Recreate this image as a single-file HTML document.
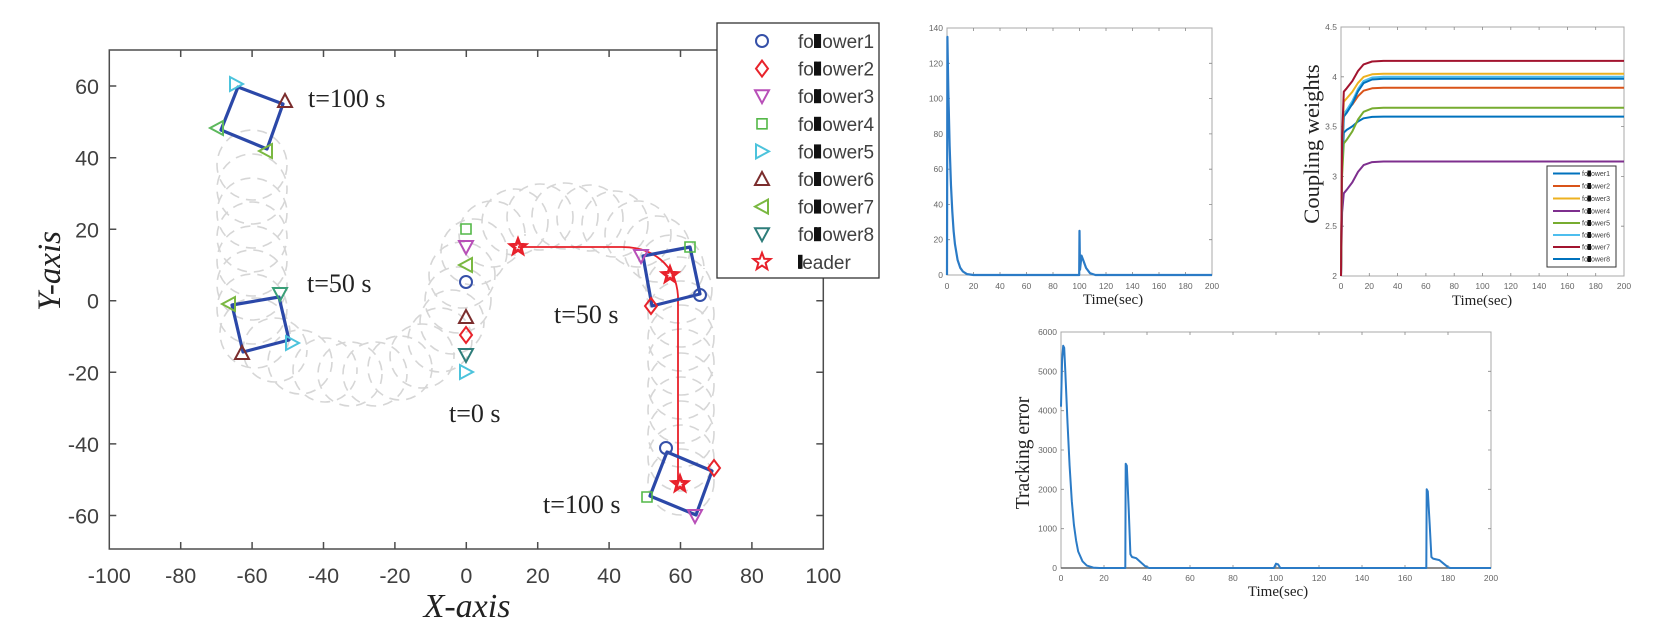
<!DOCTYPE html>
<html>
<head>
<meta charset="utf-8">
<style>
html,body{margin:0;padding:0;background:#fff;}
svg{display:block;}
.tk{font-family:"Liberation Sans",Arial,sans-serif;fill:#404040;}
.sm{font-family:"Liberation Sans",Arial,sans-serif;fill:#666;font-size:8.5px;}
.ser{font-family:"Liberation Serif","Times New Roman",serif;fill:#222;}
.tr{fill:none;stroke:#d6d6d6;stroke-width:1.6;stroke-dasharray:10 7;}
</style>
</head>
<body>
<svg width="1666" height="640" viewBox="0 0 1666 640" xmlns="http://www.w3.org/2000/svg">
<defs>
<path id="tdown" d="M-7,-6L7,-6L0,7Z" fill="none"/>
<path id="tup" d="M-7,6L7,6L0,-7Z" fill="none"/>
<path id="tright" d="M-6,-7L-6,7L7,0Z" fill="none"/>
<path id="tleft" d="M6,-7L6,7L-7,0Z" fill="none"/>
<path id="diam" d="M0,-8L6,0L0,8L-6,0Z" fill="none"/>
<path id="sq" d="M-5,-5h10v10h-10Z" fill="none"/>
<circle id="circ" r="6" fill="none"/>
<path id="star" d="M0,-9L2.23,-3.07L8.56,-2.78L3.61,1.17L5.29,7.28L0,3.8L-5.29,7.28L-3.61,1.17L-8.56,-2.78L-2.23,-3.07Z" fill="none"/>
<path id="star2" d="M0,-5L1.24,-1.7L4.76,-1.55L2,0.65L2.94,4.05L0,2.1L-2.94,4.05L-2,0.65L-4.76,-1.55L-1.24,-1.7Z" fill="none"/>
</defs>

<!-- ============ MAIN PLOT ============ -->
<g class="tr">
<!-- left vertical band -->
<circle cx="252" cy="165" r="35"/><circle cx="252" cy="189" r="35" stroke-dashoffset="5"/>
<circle cx="252" cy="213" r="35"/><circle cx="252" cy="237" r="35" stroke-dashoffset="8"/>
<circle cx="252" cy="261" r="35"/><circle cx="252" cy="285" r="35" stroke-dashoffset="4"/>
<circle cx="252" cy="309" r="35"/><circle cx="255" cy="333" r="35" stroke-dashoffset="9"/>
<!-- bottom band -->
<circle cx="275" cy="350" r="32" stroke-dashoffset="3"/><circle cx="300" cy="362" r="32"/>
<circle cx="325" cy="370" r="32" stroke-dashoffset="6"/><circle cx="350" cy="374" r="32"/>
<circle cx="375" cy="374" r="32" stroke-dashoffset="2"/><circle cx="400" cy="368" r="32"/>
<circle cx="422" cy="356" r="32" stroke-dashoffset="7"/><circle cx="440" cy="340" r="32"/>
<circle cx="452" cy="322" r="32" stroke-dashoffset="4"/>
<!-- right band -->
<circle cx="458" cy="300" r="33"/><circle cx="462" cy="275" r="33" stroke-dashoffset="5"/>
<circle cx="474" cy="252" r="33"/><circle cx="492" cy="234" r="33" stroke-dashoffset="8"/>
<circle cx="515" cy="222" r="33"/><circle cx="540" cy="217" r="33" stroke-dashoffset="3"/>
<circle cx="565" cy="216" r="33"/><circle cx="590" cy="218" r="33" stroke-dashoffset="6"/>
<circle cx="615" cy="224" r="33"/><circle cx="638" cy="234" r="33" stroke-dashoffset="2"/>
<circle cx="657" cy="249" r="33"/><circle cx="671" cy="268" r="33" stroke-dashoffset="9"/>
<circle cx="679" cy="290" r="33"/><circle cx="681" cy="314" r="33" stroke-dashoffset="4"/>
<circle cx="681" cy="338" r="33"/><circle cx="681" cy="362" r="33" stroke-dashoffset="7"/>
<circle cx="681" cy="386" r="33"/><circle cx="681" cy="410" r="33" stroke-dashoffset="3"/>
<circle cx="681" cy="434" r="33"/><circle cx="681" cy="458" r="33" stroke-dashoffset="6"/>
<circle cx="681" cy="482" r="33"/>
</g>

<!-- axes box -->
<rect x="109.3" y="50" width="714" height="499" fill="none" stroke="#4d4d4d" stroke-width="1.5"/>
<g stroke="#4d4d4d" stroke-width="1.5">
<!-- x ticks bottom & top -->
<path d="M180.7,549v-7M252.1,549v-7M323.5,549v-7M394.9,549v-7M466.3,549v-7M537.7,549v-7M609.1,549v-7M680.5,549v-7M751.9,549v-7"/>
<path d="M180.7,50v7M252.1,50v7M323.5,50v7M394.9,50v7M466.3,50v7M537.7,50v7M609.1,50v7M680.5,50v7M751.9,50v7"/>
<!-- y ticks left & right -->
<path d="M109.3,86h7M109.3,157.7h7M109.3,229.3h7M109.3,300.7h7M109.3,372.3h7M109.3,443.9h7M109.3,515.5h7"/>
<path d="M823.3,86h-7M823.3,157.7h-7M823.3,229.3h-7M823.3,300.7h-7M823.3,372.3h-7M823.3,443.9h-7M823.3,515.5h-7"/>
</g>
<!-- tick labels -->
<g class="tk" font-size="21.5" text-anchor="middle">
<text x="109.3" y="583">-100</text><text x="180.7" y="583">-80</text><text x="252.1" y="583">-60</text>
<text x="323.5" y="583">-40</text><text x="394.9" y="583">-20</text><text x="466.3" y="583">0</text>
<text x="537.7" y="583">20</text><text x="609.1" y="583">40</text><text x="680.5" y="583">60</text>
<text x="751.9" y="583">80</text><text x="823.3" y="583">100</text>
</g>
<g class="tk" font-size="21.5" text-anchor="end">
<text x="99" y="94">60</text><text x="99" y="165.7">40</text><text x="99" y="237.3">20</text>
<text x="99" y="308.7">0</text><text x="99" y="380.3">-20</text><text x="99" y="451.9">-40</text><text x="99" y="523.5">-60</text>
</g>
<text class="ser" x="467" y="617" font-size="34" font-style="italic" text-anchor="middle" fill="#444">X-axis</text>
<text class="ser" transform="translate(60,271) rotate(-90)" font-size="33" font-style="italic" text-anchor="middle" fill="#444">Y-axis</text>

<!-- leader path -->
<path d="M518,247 L622,247 C652,247 676,264 678,296 L678,484" fill="none" stroke="#e8202a" stroke-width="1.8"/>

<!-- formation squares -->
<g fill="none" stroke="#2b48a8" stroke-width="3.2" stroke-linejoin="round">
<path d="M238,87L283,104L267,149L221,130Z"/>
<path d="M232,305L279,297L289,340L243,352Z"/>
<path d="M643,256L690,247L700,294L652,306Z"/>
<path d="M667,452L712,471L696,515L650,496Z"/>
</g>

<!-- markers -->
<g stroke-width="2">
<!-- initial -->
<use href="#sq" x="466" y="229" stroke="#54b848" stroke-width="1.6"/>
<use href="#tdown" x="466" y="247" stroke="#b84fb8"/>
<use href="#tleft" x="466" y="265" stroke="#7ab841"/>
<use href="#circ" x="466" y="282" stroke="#3550a8"/>
<use href="#tup" x="466" y="317" stroke="#7b2d2d"/>
<use href="#diam" x="466" y="335" stroke="#e8232b"/>
<use href="#tdown" x="466" y="355" stroke="#2e7d7a"/>
<use href="#tright" x="466" y="372" stroke="#4cc3dc"/>
<!-- left t=100 -->
<use href="#tright" x="236" y="84" stroke="#4cc3dc"/>
<use href="#tup" x="285" y="101" stroke="#7b2d2d"/>
<use href="#tleft" x="217" y="128" stroke="#5cb85c"/>
<use href="#tleft" x="266" y="151" stroke="#7ab841"/>
<!-- left t=50 -->
<use href="#tleft" x="229" y="304" stroke="#7ab841"/>
<use href="#tdown" x="280" y="294" stroke="#3a9f78"/>
<use href="#tright" x="292" y="343" stroke="#4cc3dc"/>
<use href="#tup" x="242" y="353" stroke="#7b2d2d"/>
<!-- right t=50 -->
<use href="#tdown" x="641" y="256" stroke="#b84fb8"/>
<use href="#sq" x="690" y="247" stroke="#54b848" stroke-width="1.6"/>
<use href="#circ" x="700" y="295" stroke="#3550a8"/>
<use href="#diam" x="651" y="306" stroke="#e8232b"/>
<!-- right t=100 -->
<use href="#circ" x="666" y="448" stroke="#3550a8"/>
<use href="#diam" x="714" y="468" stroke="#e8232b"/>
<use href="#tdown" x="695" y="516" stroke="#b84fb8"/>
<use href="#sq" x="647" y="497" stroke="#54b848" stroke-width="1.6"/>
<!-- stars -->
<use href="#star" x="518" y="247" stroke="#e8202a"/>
<use href="#star2" x="518" y="247" stroke="#e8202a" stroke-width="1.2"/>
<use href="#star" x="670" y="275" stroke="#e8202a"/>
<use href="#star2" x="670" y="275" stroke="#e8202a" stroke-width="1.2"/>
<use href="#star" x="680" y="484" stroke="#e8202a"/>
<use href="#star2" x="680" y="484" stroke="#e8202a" stroke-width="1.2"/>
</g>

<!-- time labels -->
<g class="ser" font-size="26">
<text x="308" y="107">t=100 s</text>
<text x="307" y="292">t=50 s</text>
<text x="554" y="323">t=50 s</text>
<text x="449" y="422">t=0 s</text>
<text x="543" y="513">t=100 s</text>
</g>

<!-- main legend -->
<rect x="717" y="23" width="162" height="255" fill="#fff" stroke="#333" stroke-width="1.3"/>
<g stroke-width="2">
<use href="#circ" x="762" y="41" stroke="#3550a8"/>
<use href="#diam" x="762" y="68.6" stroke="#e8232b"/>
<use href="#tdown" x="762" y="96.2" stroke="#b84fb8"/>
<use href="#sq" x="762" y="123.8" stroke="#54b848" stroke-width="1.6"/>
<use href="#tright" x="762" y="151.4" stroke="#4cc3dc"/>
<use href="#tup" x="762" y="179" stroke="#7b2d2d"/>
<use href="#tleft" x="762" y="206.6" stroke="#7ab841"/>
<use href="#tdown" x="762" y="234.2" stroke="#2e7d7a"/>
<use href="#star" x="762" y="261.8" stroke="#e8202a"/>
</g>
<g class="tk" font-size="19" fill="#222">
<text x="798" y="48">follower1</text>
<text x="798" y="75.6">follower2</text>
<text x="798" y="103.2">follower3</text>
<text x="798" y="130.8">follower4</text>
<text x="798" y="158.4">follower5</text>
<text x="798" y="186">follower6</text>
<text x="798" y="213.6">follower7</text>
<text x="798" y="241.2">follower8</text>
<text x="798" y="268.8">leader</text>
</g>
<g fill="#111">
<rect x="814" y="34" width="7" height="14"/>
<rect x="814" y="61.6" width="7" height="14"/>
<rect x="814" y="89.2" width="7" height="14"/>
<rect x="814" y="116.8" width="7" height="14"/>
<rect x="814" y="144.4" width="7" height="14"/>
<rect x="814" y="172" width="7" height="14"/>
<rect x="814" y="199.6" width="7" height="14"/>
<rect x="814" y="227.2" width="7" height="14"/>
<rect x="798" y="254.8" width="4.5" height="14"/>
</g>

<!-- ============ TOP-MIDDLE PLOT ============ -->
<rect x="947" y="28" width="265" height="247" fill="none" stroke="#a8a8a8" stroke-width="1"/>
<g stroke="#888" stroke-width="0.8">
<path d="M973.5,275v-3M1000,275v-3M1026.5,275v-3M1053,275v-3M1079.5,275v-3M1106,275v-3M1132.5,275v-3M1159,275v-3M1185.5,275v-3"/>
<path d="M973.5,28v3M1000,28v3M1026.5,28v3M1053,28v3M1079.5,28v3M1106,28v3M1132.5,28v3M1159,28v3M1185.5,28v3"/>
<path d="M947,239.7h3M947,204.4h3M947,169.2h3M947,133.9h3M947,98.6h3M947,63.3h3"/>
<path d="M1212,239.7h-3M1212,204.4h-3M1212,169.2h-3M1212,133.9h-3M1212,98.6h-3M1212,63.3h-3"/>
</g>
<g class="sm" text-anchor="end">
<text x="943" y="278">0</text><text x="943" y="242.7">20</text><text x="943" y="207.4">40</text>
<text x="943" y="172.2">60</text><text x="943" y="136.9">80</text><text x="943" y="101.6">100</text>
<text x="943" y="66.3">120</text><text x="943" y="31">140</text>
</g>
<g class="sm" text-anchor="middle">
<text x="947" y="289">0</text><text x="973.5" y="289">20</text><text x="1000" y="289">40</text>
<text x="1026.5" y="289">60</text><text x="1053" y="289">80</text><text x="1079.5" y="289">100</text>
<text x="1106" y="289">120</text><text x="1132.5" y="289">140</text><text x="1159" y="289">160</text>
<text x="1185.5" y="289">180</text><text x="1212" y="289">200</text>
</g>
<text class="ser" x="1113" y="304" font-size="15" text-anchor="middle" fill="#444">Time(sec)</text>
<path d="M947,275 L947.4,36.9 L948.3,89.8 L949.65,146.2 L950.97,185 L952.3,211.5 L953.6,230.9 L954.95,244.1 L957.6,260 L960.25,267.8 L962.9,271.5 L966.9,274.1 L973.5,275 L1079.2,275 L1079.5,230.9 L1080,269.7 L1081.5,255.6 L1083.5,260.9 L1086.1,268 L1090,273.2 L1095.4,275 L1212,275" fill="none" stroke="#2b7bc6" stroke-width="2.2" stroke-linejoin="round"/>

<!-- ============ TOP-RIGHT PLOT ============ -->
<rect x="1341" y="27" width="283" height="249" fill="none" stroke="#a8a8a8" stroke-width="1"/>
<g stroke="#888" stroke-width="0.8">
<path d="M1369.3,276v-3M1397.6,276v-3M1425.9,276v-3M1454.2,276v-3M1482.5,276v-3M1510.8,276v-3M1539.1,276v-3M1567.4,276v-3M1595.7,276v-3"/>
<path d="M1369.3,27v3M1397.6,27v3M1425.9,27v3M1454.2,27v3M1482.5,27v3M1510.8,27v3M1539.1,27v3M1567.4,27v3M1595.7,27v3"/>
<path d="M1341,76.8h3M1341,126.6h3M1341,176.4h3M1341,226.2h3"/>
<path d="M1624,76.8h-3M1624,126.6h-3M1624,176.4h-3M1624,226.2h-3"/>
</g>
<g class="sm" text-anchor="end">
<text x="1337" y="279">2</text><text x="1337" y="229.2">2.5</text><text x="1337" y="179.4">3</text>
<text x="1337" y="129.6">3.5</text><text x="1337" y="79.8">4</text><text x="1337" y="30">4.5</text>
</g>
<g class="sm" text-anchor="middle">
<text x="1341" y="289">0</text><text x="1369.3" y="289">20</text><text x="1397.6" y="289">40</text>
<text x="1425.9" y="289">60</text><text x="1454.2" y="289">80</text><text x="1482.5" y="289">100</text>
<text x="1510.8" y="289">120</text><text x="1539.1" y="289">140</text><text x="1567.4" y="289">160</text>
<text x="1595.7" y="289">180</text><text x="1624" y="289">200</text>
</g>
<text class="ser" x="1482" y="305" font-size="15" text-anchor="middle" fill="#444">Time(sec)</text>
<text class="ser" transform="translate(1319,144) rotate(-90)" font-size="22.5" text-anchor="middle" fill="#444">Coupling weights</text>
<g fill="none" stroke-width="2" stroke-linejoin="round">
<path stroke="#7E2F8E" d="M1341,276 L1342.1,212.5 L1343.8,193.3 L1346.7,189.8 L1352.3,182.4 L1358,171.9 L1363.6,165.1 L1372.1,162.1 L1383.5,161.5 L1624,161.5"/>
<path stroke="#0072BD" d="M1341,276 L1342.1,166.95 L1343.8,132.6 L1346.7,129.9 L1352.3,126.4 L1358,121.5 L1363.6,118.3 L1372.1,116.9 L1383.5,116.6 L1624,116.6"/>
<path stroke="#77AC30" d="M1341,276 L1342.1,175.1 L1343.8,143.5 L1346.7,139.8 L1352.3,131.4 L1358,119.5 L1363.6,111.8 L1372.1,108.4 L1383.5,107.7 L1624,107.7"/>
<path stroke="#D95319" d="M1341,276 L1342.1,152.8 L1343.8,113.7 L1346.7,110.5 L1352.3,104.5 L1358,96.2 L1363.6,90.7 L1372.1,88.3 L1383.5,87.8 L1624,87.8"/>
<path stroke="#4DBEEE" d="M1341,276 L1342.1,152.8 L1343.8,113.7 L1346.7,110 L1352.3,101.2 L1358,89 L1363.6,81 L1372.1,77.5 L1383.5,76.8 L1624,76.8"/>
<path stroke="#0072BD" d="M1341,276 L1342.1,154.95 L1343.8,116.6 L1346.7,112.8 L1352.3,103.9 L1358,91.3 L1363.6,83.1 L1372.1,79.5 L1383.5,78.8 L1624,78.8"/>
<path stroke="#EDB120" d="M1341,276 L1342.1,143.8 L1343.8,101.7 L1346.7,98.4 L1352.3,91.9 L1358,82.9 L1363.6,76.9 L1372.1,74.3 L1383.5,73.8 L1624,73.8"/>
<path stroke="#A2142F" d="M1341,276 L1342.1,136.3 L1343.8,91.7 L1346.7,88.3 L1352.3,81.1 L1358,71 L1363.6,64.4 L1372.1,61.5 L1383.5,60.9 L1624,60.9"/>
</g>
<!-- small legend -->
<rect x="1547" y="166" width="69" height="101" fill="#fff" stroke="#333" stroke-width="1"/>
<g stroke-width="2">
<path d="M1553,173.5h27" stroke="#0072BD"/>
<path d="M1553,186h27" stroke="#D95319"/>
<path d="M1553,198.5h27" stroke="#EDB120"/>
<path d="M1553,211h27" stroke="#7E2F8E"/>
<path d="M1553,223h27" stroke="#77AC30"/>
<path d="M1553,235h27" stroke="#4DBEEE"/>
<path d="M1553,247h27" stroke="#A2142F"/>
<path d="M1553,259h27" stroke="#0072BD"/>
</g>
<g class="tk" font-size="7" fill="#444">
<text x="1582" y="176">follower1</text><text x="1582" y="188.5">follower2</text>
<text x="1582" y="201">follower3</text><text x="1582" y="213.5">follower4</text>
<text x="1582" y="225.5">follower5</text><text x="1582" y="237.5">follower6</text>
<text x="1582" y="249.5">follower7</text><text x="1582" y="261.5">follower8</text>
</g>
<g fill="#111">
<rect x="1587.5" y="170.5" width="3.5" height="6"/><rect x="1587.5" y="183" width="3.5" height="6"/>
<rect x="1587.5" y="195.5" width="3.5" height="6"/><rect x="1587.5" y="208" width="3.5" height="6"/>
<rect x="1587.5" y="220" width="3.5" height="6"/><rect x="1587.5" y="232" width="3.5" height="6"/>
<rect x="1587.5" y="244" width="3.5" height="6"/><rect x="1587.5" y="256" width="3.5" height="6"/>
</g>

<!-- ============ BOTTOM PLOT ============ -->
<rect x="1061" y="332" width="430" height="236" fill="none" stroke="#a8a8a8" stroke-width="1"/>
<path d="M1061,568H1491" stroke="#666" stroke-width="1.6"/>
<g stroke="#888" stroke-width="0.8">
<path d="M1104,568v-3M1147,568v-3M1190,568v-3M1233,568v-3M1276,568v-3M1319,568v-3M1362,568v-3M1405,568v-3M1448,568v-3"/>
<path d="M1104,332v3M1147,332v3M1190,332v3M1233,332v3M1276,332v3M1319,332v3M1362,332v3M1405,332v3M1448,332v3"/>
<path d="M1061,528.7h3M1061,489.3h3M1061,450h3M1061,410.7h3M1061,371.3h3"/>
<path d="M1491,528.7h-3M1491,489.3h-3M1491,450h-3M1491,410.7h-3M1491,371.3h-3"/>
</g>
<g class="sm" text-anchor="end">
<text x="1057" y="571">0</text><text x="1057" y="531.7">1000</text><text x="1057" y="492.3">2000</text>
<text x="1057" y="453">3000</text><text x="1057" y="413.7">4000</text><text x="1057" y="374.3">5000</text>
<text x="1057" y="335">6000</text>
</g>
<g class="sm" text-anchor="middle">
<text x="1061" y="581">0</text><text x="1104" y="581">20</text><text x="1147" y="581">40</text>
<text x="1190" y="581">60</text><text x="1233" y="581">80</text><text x="1276" y="581">100</text>
<text x="1319" y="581">120</text><text x="1362" y="581">140</text><text x="1405" y="581">160</text>
<text x="1448" y="581">180</text><text x="1491" y="581">200</text>
</g>
<text class="ser" x="1278" y="596" font-size="15" text-anchor="middle" fill="#444">Time(sec)</text>
<text class="ser" transform="translate(1029,453) rotate(-90)" font-size="19.5" text-anchor="middle" fill="#444">Tracking error</text>
<path d="M1061,406.7 L1062.1,359.6 L1063.2,345.8 L1064.2,347.8 L1065.3,371.3 L1067.5,422.5 L1069.6,465.7 L1071.8,501.1 L1073.9,524.7 L1076.1,540.5 L1078.2,551.5 L1082.5,561.3 L1086.8,565.6 L1093.3,567.6 L1099.7,568 L1125.3,568 L1125.7,463.8 L1126.8,465.7 L1128.7,509 L1130.4,554.2 L1132,557 L1136.3,558.2 L1140.6,562.1 L1144.9,566 L1149.2,568 L1273.9,568 L1276,563.7 L1278.2,564.5 L1280.3,568 L1426.3,568 L1426.7,489.3 L1427.8,491.3 L1429.7,524.7 L1431.4,557 L1433,558.6 L1439.4,560.1 L1443.7,563.7 L1448,567.2 L1450.2,568 L1491,568" fill="none" stroke="#2b7bc6" stroke-width="2" stroke-linejoin="round"/>
</svg>
</body>
</html>
